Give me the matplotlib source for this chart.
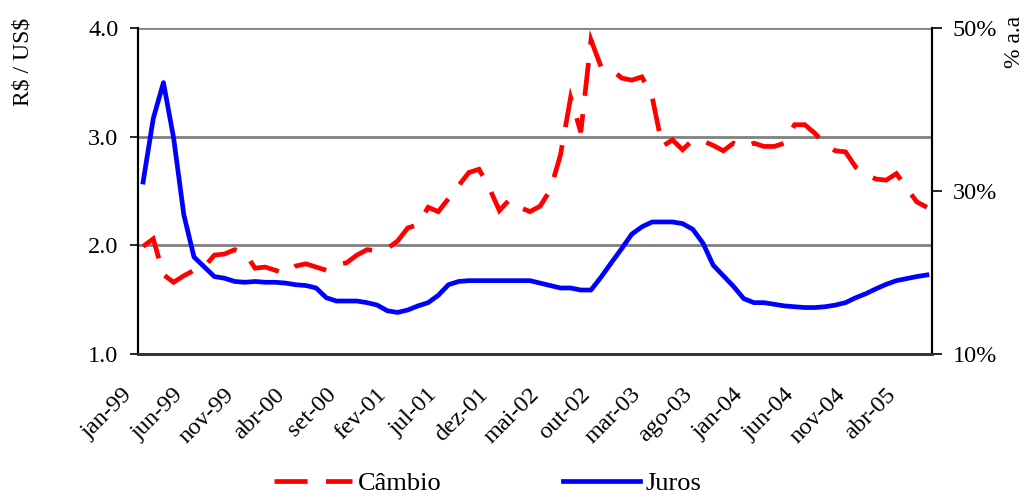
import matplotlib
matplotlib.use("Agg")
import matplotlib.pyplot as plt
from matplotlib.lines import Line2D
from matplotlib.transforms import ScaledTranslation

# monthly data jan-99 .. jun-05
cambio = [1.99, 2.06, 1.73, 1.66, 1.72, 1.77, 1.80, 1.91, 1.92, 1.96, 1.93, 1.79,
          1.80, 1.77, 1.74, 1.81, 1.83, 1.80, 1.77, 1.82, 1.84, 1.91, 1.96, 1.95,
          1.97, 2.04, 2.16, 2.19, 2.35, 2.31, 2.43, 2.55, 2.67, 2.70, 2.53, 2.32,
          2.42, 2.35, 2.31, 2.36, 2.51, 2.83, 3.36, 3.04, 3.89, 3.64, 3.62, 3.54,
          3.52, 3.55, 3.37, 2.91, 2.97, 2.88, 2.97, 2.96, 2.92, 2.87, 2.94, 2.90,
          2.94, 2.91, 2.91, 2.94, 3.11, 3.11, 3.03, 2.93, 2.87, 2.86, 2.72, 2.65,
          2.61, 2.60, 2.66, 2.53, 2.40, 2.35]
juros = [31.1, 38.9, 43.3, 36.5, 27.1, 21.9, 20.7, 19.5, 19.3, 18.9, 18.8, 18.9,
         18.8, 18.8, 18.7, 18.5, 18.4, 18.1, 16.9, 16.5, 16.5, 16.5, 16.3, 16.0,
         15.3, 15.1, 15.4, 15.9, 16.3, 17.2, 18.5, 18.9, 19.0, 19.0, 19.0, 19.0,
         19.0, 19.0, 19.0, 18.7, 18.4, 18.1, 18.1, 17.85, 17.85, 19.45, 21.2, 22.9,
         24.7, 25.6, 26.2, 26.2, 26.2, 26.0, 25.3, 23.6, 20.9, 19.6, 18.3, 16.8,
         16.3, 16.3, 16.1, 15.9, 15.8, 15.7, 15.7, 15.8, 16.0, 16.3, 16.9, 17.4,
         18.0, 18.55, 19.0, 19.25, 19.5, 19.7]
tick_labels = ["jan-99", "jun-99", "nov-99", "abr-00", "set-00", "fev-01", "jul-01",
               "dez-01", "mai-02", "out-02", "mar-03", "ago-03", "jan-04", "jun-04",
               "nov-04", "abr-05"]
left_ticks = [1.0, 2.0, 3.0, 4.0]
right_ticks = [10, 30, 50]

plt.rcParams['font.family'] = ['Liberation Serif', 'DejaVu Serif']
FS = 17.5
LW = 3.4
DASH = (7.0, 3.9)

fig = plt.figure(figsize=(10.25, 4.97), dpi=100)
ax = fig.add_axes([138/1025, 1-354/497, (932-138)/1025, (354-28)/497])
ax2 = ax.twinx()

x = list(range(len(cambio)))
red = '#ff0000'
blue = '#0000ff'

ax.set_ylim(1.0, 4.0)
ax.set_xlim(-0.5, len(cambio) - 0.5)
ax.set_yticks(left_ticks)
ax.set_yticklabels([f"{v:.1f}" for v in left_ticks], fontsize=FS)
for v in left_ticks[1:]:
    ax.axhline(v, color='#808080', lw=2, zorder=1)
ax.plot(x, cambio, color=red, lw=LW, dashes=DASH, zorder=3,
        dash_capstyle='butt', dash_joinstyle='miter')

ax2.set_ylim(10, 50)
ax2.set_yticks(right_ticks)
ax2.set_yticklabels([f"{v}%" for v in right_ticks], fontsize=FS)
ax2.plot(x, juros, color=blue, lw=LW, zorder=4, solid_joinstyle='round')

ax.set_xticks(range(0, len(cambio), 5))
ax.set_xticklabels(tick_labels, fontsize=FS, rotation=45, ha='right', va='center',
                   rotation_mode='anchor')
ax.tick_params(axis='x', length=0, pad=27)
off = ScaledTranslation(-14/100, 0, fig.dpi_scale_trans)
for lbl in ax.get_xticklabels():
    lbl.set_transform(lbl.get_transform() + off)
ax.tick_params(axis='y', length=6, width=1.2, direction='out', pad=8)
ax2.tick_params(axis='y', length=7, width=1.2, direction='out', pad=8)

for a in (ax, ax2):
    a.spines['top'].set_visible(False)
    a.spines['left'].set_linewidth(1.5)
    a.spines['right'].set_linewidth(1.5)
    a.spines['bottom'].set_linewidth(2)
    a.spines['bottom'].set_color('#333333')
    a.patch.set_visible(False)

fig.text(23/1025, 1-62/497, r"R\$ / US\$", rotation=90, ha='center', va='center',
         fontsize=17)
fig.text(1014/1025, 1-42/497, "% a.a", rotation=90, ha='center', va='center',
         fontsize=17)

handles = [Line2D([], [], color=red, lw=LW, dashes=DASH),
           Line2D([], [], color=blue, lw=LW)]
fig.legend(handles, ["Câmbio", "Juros"], loc='center', ncol=2,
           bbox_to_anchor=(488/1025, 1-483/497), frameon=False, fontsize=19,
           handlelength=2.95, handletextpad=0.2, columnspacing=4.6)

fig.savefig("out.png", dpi=100)
